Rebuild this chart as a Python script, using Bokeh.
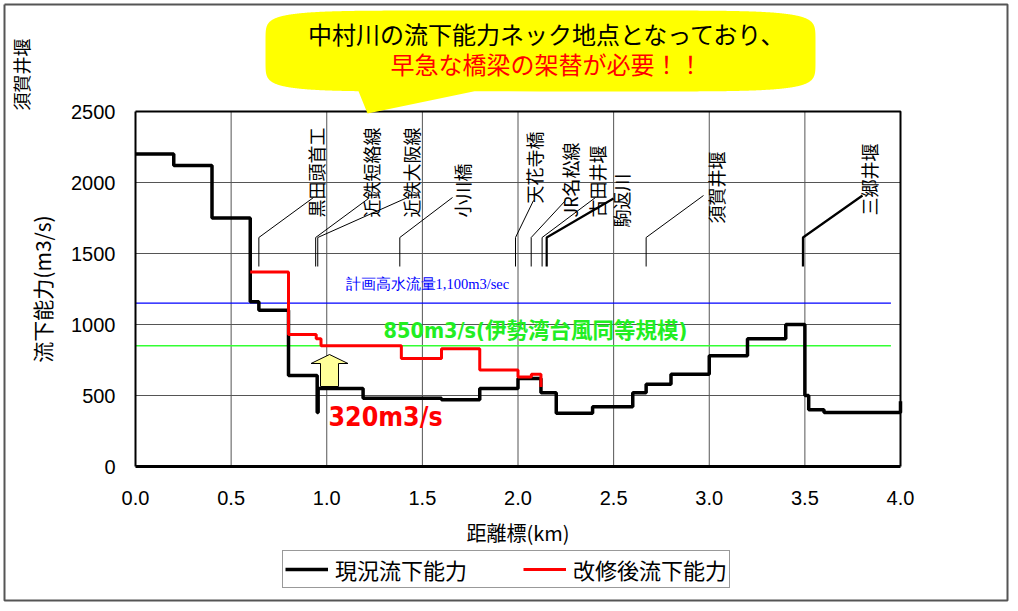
import numpy as np
from bokeh.plotting import figure
from bokeh.models import (FixedTicker, Label, Legend, LegendItem, Range1d, NumeralTickFormatter)
from bokeh.embed import file_html
from bokeh.resources import INLINE

# ---------------- data ----------------
current_km = [0.0, 0.2, 0.4, 0.6, 0.645, 0.8, 0.95, 0.955, 1.19, 1.6, 1.8, 2.0, 2.12,
              2.2, 2.39, 2.6, 2.67, 2.8, 3.0, 3.2, 3.4, 3.5, 3.52, 3.6, 4.0]
current_q = [2200, 2120, 1750, 1160, 1100, 640, 380, 550, 480, 470, 550, 620, 520,
             375, 420, 520, 580, 650, 780, 900, 1000, 500, 400, 380, 460]

improved_km = [0.6, 0.8, 0.945, 0.97, 1.39, 1.6, 1.8, 2.0, 2.07, 2.12]
improved_q = [1370, 930, 900, 850, 760, 830, 680, 630, 650, 560]

plan_flow = 1150
isewan_flow = 850
level_km = [0.0, 3.95]

x_ticks = [0.0, 0.5, 1.0, 1.5, 2.0, 2.5, 3.0, 3.5, 4.0]
y_ticks = [0, 500, 1000, 1500, 2000, 2500]

stations = ["黒田頭首工", "近鉄短絡線", "近鉄大阪線", "小川橋", "天花寺橋",
            "JR名松線", "古田井堰", "駒返川", "須賀井堰", "三郷井堰"]
station_km = [0.645, 0.942, 0.953, 1.382, 1.987, 2.069, 2.126, 2.15, 2.67, 3.49]

# ---------------- layout helpers (page pixels -> data units) ----------------
W, H = 1010, 603
PX0, PXK = 135.0, 191.25     # page x of km 0, pixels per km
PY0, PYQ = 466.0, 0.142      # page y of q 0, pixels per m3/s
def dx(px): return (px - PX0) / PXK
def dy(py): return (PY0 - py) / PYQ

# label / leader layout (page px)
label_px = [315, 370, 410, 461, 533, 569, 596, 620, 715, 868]
label_bottom_py = [217, 217, 217, 217, 203, 217, 217, 227, 223, 215]
leader_end_px = [313, 368, 407, 452, 533, 565, 595, 613, 703, 862]
leader_end_py = [197, 198, 197, 197, 200, 200, 197, 198, 195, 195]
leader_thick = [False, False, False, False, False, False, False, True, False, True]
leader_low_py, leader_knee_py = 266, 237

CJK = "Noto Sans CJK JP"
COND = "DejaVu Sans Condensed, Noto Sans CJK JP"

p = figure(width=W, height=H, x_range=Range1d(dx(0), dx(W)), y_range=Range1d(dy(H), dy(0)),
           output_backend="svg", toolbar_location=None,
           min_border_left=0, min_border_right=0, min_border_top=0, min_border_bottom=0)
p.background_fill_color = "white"
p.border_fill_color = "white"
p.outline_line_color = None
p.xgrid.visible = False
p.ygrid.visible = False

# axes (library axes, pinned at the data origin)
p.xaxis.ticker = FixedTicker(ticks=x_ticks)
p.yaxis.ticker = FixedTicker(ticks=y_ticks)
p.xaxis.formatter = NumeralTickFormatter(format="0.0")
p.yaxis.formatter = NumeralTickFormatter(format="0")
p.xaxis.fixed_location = 0
p.yaxis.fixed_location = 0
p.xaxis.bounds = (x_ticks[0], x_ticks[-1])
p.yaxis.bounds = (y_ticks[0], y_ticks[-1])
for ax in (p.xaxis, p.yaxis):
    ax.major_tick_in = 0
    ax.major_tick_out = 0
    ax.minor_tick_in = 0
    ax.minor_tick_out = 0
    ax.major_label_text_font = "Liberation Sans"
    ax.major_label_text_font_size = "20px"
    ax.major_label_text_color = "black"
    ax.axis_line_color = "black"
    ax.axis_label_text_font = CJK
    ax.axis_label_text_font_style = "normal"
    ax.axis_label_text_color = "black"
p.xaxis.axis_line_width = 3
p.yaxis.axis_line_width = 2
p.xaxis.major_label_standoff = 24
p.yaxis.major_label_standoff = 20
p.xaxis.axis_label = "距離標(km)"
p.xaxis.axis_label_text_font_size = "20px"
p.xaxis.axis_label_standoff = 10
p.yaxis.axis_label = "流下能力(m3/s)"
p.yaxis.axis_label_text_font_size = "21px"
p.yaxis.axis_label_standoff = 11

# grid lines from the tick arrays
gx = x_ticks[1:-1]
p.segment(x0=gx, y0=[y_ticks[0]] * len(gx), x1=gx, y1=[y_ticks[-1]] * len(gx),
          line_color="#555555", line_width=1)
gy = y_ticks[1:-1]
p.segment(x0=[x_ticks[0]] * len(gy), y0=gy, x1=[x_ticks[-1]] * len(gy), y1=gy,
          line_color="#555555", line_width=1)
# top and right frame edges
p.line([x_ticks[0], x_ticks[-1], x_ticks[-1]], [y_ticks[-1], y_ticks[-1], y_ticks[0]],
       line_color="black", line_width=2)

# outer page border
bx = [dx(4), dx(1007), dx(1007), dx(4), dx(4)]
by = [dy(4), dy(4), dy(600), dy(600), dy(4)]
p.line(bx, by, line_color="#555555", line_width=2)

# callout balloon
ccx, ccy, ca, cb, cn = 540.0, 50.5, 275.0, 40.5, 7
t = np.linspace(0, 2 * np.pi, 721)
spx = ccx + ca * np.sign(np.cos(t)) * np.abs(np.cos(t)) ** (2 / cn)
spy = ccy - cb * np.sign(np.sin(t)) * np.abs(np.sin(t)) ** (2 / cn)
tail_l, tail_r, tip = 358.0, 474.0, (367.0, 113.0)
cxs, cys = [], []
done = False
for x, y in zip(spx, spy):
    if y > ccy and tail_l < x < tail_r:
        if not done:
            cxs += [dx(tail_l), dx(tip[0]), dx(tail_r)]
            cys += [dy(y), dy(tip[1]), dy(y)]
            done = True
        continue
    cxs.append(dx(x)); cys.append(dy(y))
p.patch(cxs, cys, fill_color="#FFFF00", line_color=None)

p.add_layout(Label(x=dx(547), y=dy(33), text="中村川の流下能力ネック地点となっており、",
                   text_font=CJK, text_font_size="24px", text_color="black",
                   text_align="center", text_baseline="middle"))
p.add_layout(Label(x=dx(546), y=dy(63), text="早急な橋梁の架替が必要！！",
                   text_font=CJK, text_font_size="24px", text_color="#FF0000",
                   text_align="center", text_baseline="middle"))
p.add_layout(Label(x=dx(20.5), y=dy(110), text="須賀井堰", angle=np.pi / 2,
                   text_font=CJK, text_font_size="18px", text_color="black",
                   text_align="left", text_baseline="middle"))

# reference levels
p.line(level_km, [plan_flow, plan_flow], line_color="#0000FF", line_width=1.2)
p.line(level_km, [isewan_flow, isewan_flow], line_color="#33FF33", line_width=1.5)

# leaders and station labels
for i in range(len(stations)):
    xs_ = [station_km[i], station_km[i], dx(leader_end_px[i])]
    ys_ = [dy(leader_low_py), dy(leader_knee_py), dy(leader_end_py[i])]
    p.line(xs_, ys_, line_color="black", line_width=2.2 if leader_thick[i] else 1)
    p.add_layout(Label(x=dx(label_px[i]), y=dy(label_bottom_py[i]), text=stations[i],
                       angle=np.pi / 2, text_font=CJK, text_font_size="18px",
                       text_color="black", text_align="left", text_baseline="middle"))

# data lines
r_cur = p.step(current_km, current_q, mode="after", line_color="black", line_width=3.5)
r_imp = p.step(improved_km, improved_q, mode="after", line_color="#FF0000", line_width=3)

# yellow arrow
acx, abase, atip = 329.0, 386.0, 354.0
sw, hw, hl = 9.0, 18.5, 9.0
apx = [acx - sw, acx - sw, acx - hw, acx, acx + hw, acx + sw, acx + sw]
apy = [abase, atip + hl, atip + hl, atip, atip + hl, atip + hl, abase]
p.patch([dx(v) for v in apx], [dy(v) for v in apy],
        fill_color="#FFFF99", line_color="black", line_width=1)

# texts
p.add_layout(Label(x=dx(345), y=dy(283), text="計画高水流量1,100m3/sec",
                   text_font="Liberation Serif", text_font_size="14.5px",
                   text_color="#0000FF", text_align="left", text_baseline="middle"))
p.add_layout(Label(x=dx(383), y=dy(330), text="850m3/s(伊勢湾台風同等規模)",
                   text_font=COND, text_font_size="21.5px", text_font_style="bold",
                   text_color="#22EE22", text_align="left", text_baseline="middle"))
p.add_layout(Label(x=dx(328), y=dy(416), text="320m3/s",
                   text_font=COND, text_font_size="26.5px", text_font_style="bold",
                   text_color="#FF0000", text_align="left", text_baseline="middle"))

legend = Legend(items=[LegendItem(label="現況流下能力", renderers=[r_cur]),
                       LegendItem(label="改修後流下能力", renderers=[r_imp])],
                orientation="horizontal", location=(282, H - 588))
legend.label_text_font = CJK
legend.label_text_font_size = "22px"
legend.label_text_color = "black"
legend.glyph_width = 43
legend.glyph_height = 20
legend.label_height = 20
legend.label_standoff = 7
legend.spacing = 56
legend.padding = 2
legend.margin = 0
legend.border_line_color = "#333333"
legend.border_line_width = 1
legend.background_fill_color = "white"
legend.background_fill_alpha = 1
p.add_layout(legend)

open("out.html", "w").write(file_html(p, INLINE))
